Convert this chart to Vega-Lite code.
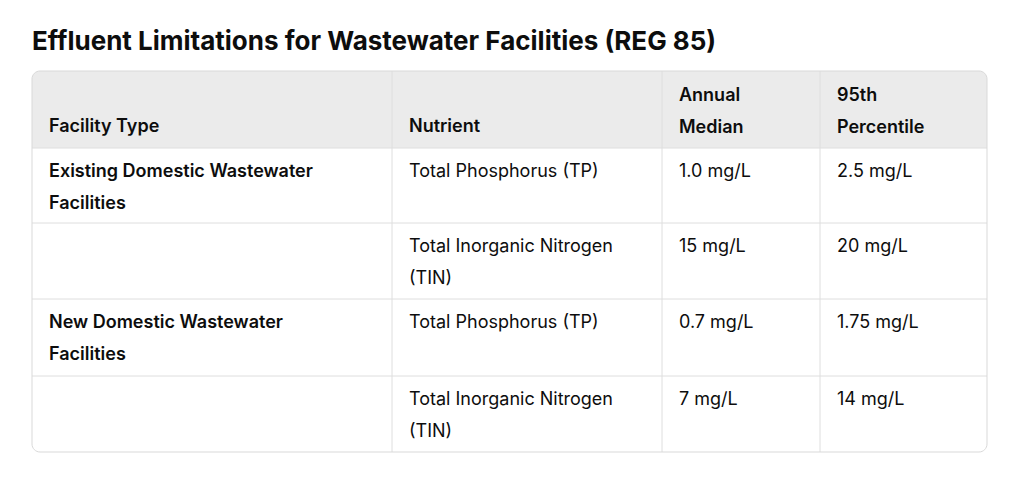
{
  "$schema": "https://vega.github.io/schema/vega-lite/v6.json",
  "width": 1024,
  "height": 411,
  "autosize": {"type": "none"},
  "padding": {"top": 71, "left": 0, "right": 0, "bottom": 0},
  "background": "white",
  "title": {
    "text": "Effluent Limitations for Wastewater Facilities (REG 85)",
    "anchor": "start",
    "frame": "group",
    "dx": 32,
    "offset": 16,
    "fontSize": 26,
    "fontWeight": "bold",
    "font": "Inter",
    "color": "#0d0d0d"
  },
  "config": {"view": {"stroke": null}},
  "datasets": {
    "cells": [
      {"row": 0, "col": 0, "part": "header", "text": "Facility Type"},
      {"row": 0, "col": 1, "part": "header", "text": "Nutrient"},
      {"row": 0, "col": 2, "part": "header", "text": "Annual\nMedian"},
      {"row": 0, "col": 3, "part": "header", "text": "95th\nPercentile"},
      {"row": 1, "col": 0, "part": "facility", "text": "Existing Domestic Wastewater\nFacilities"},
      {"row": 1, "col": 1, "part": "value", "text": "Total Phosphorus (TP)"},
      {"row": 1, "col": 2, "part": "value", "text": "1.0 mg/L"},
      {"row": 1, "col": 3, "part": "value", "text": "2.5 mg/L"},
      {"row": 2, "col": 1, "part": "value", "text": "Total Inorganic Nitrogen\n(TIN)"},
      {"row": 2, "col": 2, "part": "value", "text": "15 mg/L"},
      {"row": 2, "col": 3, "part": "value", "text": "20 mg/L"},
      {"row": 3, "col": 0, "part": "facility", "text": "New Domestic Wastewater\nFacilities"},
      {"row": 3, "col": 1, "part": "value", "text": "Total Phosphorus (TP)"},
      {"row": 3, "col": 2, "part": "value", "text": "0.7 mg/L"},
      {"row": 3, "col": 3, "part": "value", "text": "1.75 mg/L"},
      {"row": 4, "col": 1, "part": "value", "text": "Total Inorganic Nitrogen\n(TIN)"},
      {"row": 4, "col": 2, "part": "value", "text": "7 mg/L"},
      {"row": 4, "col": 3, "part": "value", "text": "14 mg/L"}
    ],
    "header": [{"row": 0, "rowEnd": 1, "col": 0, "colEnd": 4}],
    "table": [{"row": 0, "rowEnd": 5, "col": 0, "colEnd": 4}],
    "hlines": [{"row": 1}, {"row": 2}, {"row": 3}, {"row": 4}],
    "vlines": [{"col": 1}, {"col": 2}, {"col": 3}]
  },
  "layer": [
    {
      "data": {"name": "header"},
      "mark": {"type": "rect", "fill": "#ebebeb", "cornerRadiusTopLeft": 8, "cornerRadiusTopRight": 8},
      "encoding": {
        "x": {"field": "col", "type": "quantitative", "axis": null, "scale": {"domain": [0, 1, 2, 3, 4], "range": [32, 392, 662, 820, 987], "nice": false, "zero": false}},
        "x2": {"field": "colEnd"},
        "y": {"field": "row", "type": "quantitative", "axis": null, "scale": {"domain": [0, 1, 2, 3, 4, 5], "range": [0, 77, 152, 228, 305, 381], "nice": false, "zero": false}},
        "y2": {"field": "rowEnd"}
      }
    },
    {
      "data": {"name": "hlines"},
      "mark": {"type": "rule", "stroke": "#dedede", "strokeWidth": 1},
      "encoding": {
        "y": {"field": "row", "type": "quantitative", "axis": null},
        "x": {"datum": 0, "type": "quantitative", "axis": null},
        "x2": {"datum": 4}
      }
    },
    {
      "data": {"name": "vlines"},
      "mark": {"type": "rule", "stroke": "#dedede", "strokeWidth": 1},
      "encoding": {
        "x": {"field": "col", "type": "quantitative", "axis": null},
        "y": {"datum": 0, "type": "quantitative", "axis": null},
        "y2": {"datum": 5}
      }
    },
    {
      "data": {"name": "table"},
      "mark": {"type": "rect", "fillOpacity": 0, "stroke": "#d9d9d9", "strokeWidth": 1, "cornerRadius": 8},
      "encoding": {
        "x": {"field": "col", "type": "quantitative", "axis": null},
        "x2": {"field": "colEnd"},
        "y": {"field": "row", "type": "quantitative", "axis": null},
        "y2": {"field": "rowEnd"}
      }
    },
    {
      "data": {"name": "cells"},
      "transform": [{"filter": "datum.part === 'header' && indexof(datum.text, '\\n') < 0"}],
      "mark": {"type": "text", "font": "Inter", "fontSize": 18, "fontWeight": 600, "color": "#0d0d0d", "align": "left", "baseline": "bottom", "lineHeight": 32, "lineBreak": "\n", "dx": 17, "dy": -12},
      "encoding": {
        "x": {"field": "col", "type": "quantitative", "axis": null},
        "y": {"datum": 1, "type": "quantitative", "axis": null},
        "text": {"field": "text"}
      }
    },
    {
      "data": {"name": "cells"},
      "transform": [{"filter": "datum.part === 'header' && indexof(datum.text, '\\n') >= 0"}],
      "mark": {"type": "text", "font": "Inter", "fontSize": 18, "fontWeight": 600, "color": "#0d0d0d", "align": "left", "baseline": "line-top", "lineHeight": 32, "lineBreak": "\n", "dx": 17, "dy": 9},
      "encoding": {
        "x": {"field": "col", "type": "quantitative", "axis": null},
        "y": {"datum": 0, "type": "quantitative", "axis": null},
        "text": {"field": "text"}
      }
    },
    {
      "data": {"name": "cells"},
      "transform": [{"filter": "datum.part === 'facility'"}],
      "mark": {"type": "text", "font": "Inter", "fontSize": 18, "fontWeight": 600, "color": "#0d0d0d", "align": "left", "baseline": "line-top", "lineHeight": 32, "lineBreak": "\n", "dx": 17, "dy": 8},
      "encoding": {
        "x": {"field": "col", "type": "quantitative", "axis": null},
        "y": {"field": "row", "type": "quantitative", "axis": null},
        "text": {"field": "text"}
      }
    },
    {
      "data": {"name": "cells"},
      "transform": [{"filter": "datum.part === 'value'"}],
      "mark": {"type": "text", "font": "Inter", "fontSize": 18, "fontWeight": 400, "color": "#0d0d0d", "align": "left", "baseline": "line-top", "lineHeight": 32, "lineBreak": "\n", "dx": 17, "dy": 8},
      "encoding": {
        "x": {"field": "col", "type": "quantitative", "axis": null},
        "y": {"field": "row", "type": "quantitative", "axis": null},
        "text": {"field": "text"}
      }
    }
  ]
}
